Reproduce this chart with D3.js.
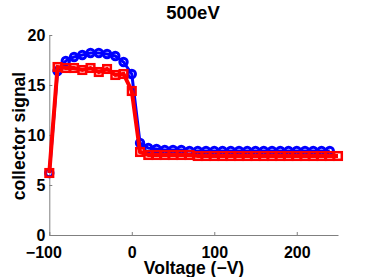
<!DOCTYPE html>
<html>
<head>
<meta charset="utf-8">
<script src="https://cdn.jsdelivr.net/npm/d3@7"></script>
<style>
  body { margin: 0; background: #fff; }
  text { font-family: "Liberation Sans", Arial, sans-serif; font-weight: bold; fill: #000; }
  .tick-label { font-size: 16px; }
  .label { font-size: 17.5px; }
  .title { font-size: 18.5px; }
</style>
</head>
<body>
<svg id="chart" width="374" height="277"></svg>
<script>
// data
let blueX = [-100, -90, -80, -70, -60, -50, -40, -30, -20, -10, 0,
    10, 20, 30, 40, 50, 60, 70, 80, 90, 100, 110, 120, 130, 140, 150,
    160, 170, 180, 190, 200, 210, 220, 230, 240]
let blueY = [6.2, 16.4, 17.4, 17.8, 18.0, 18.2, 18.2, 18.1, 17.9, 17.3, 16.1,
    9.2, 8.7, 8.6, 8.5, 8.5, 8.5, 8.4, 8.4, 8.4, 8.4, 8.4, 8.4, 8.4, 8.4, 8.4,
    8.4, 8.4, 8.4, 8.4, 8.4, 8.4, 8.4, 8.4, 8.4]

let redX = [-100, -90, -80, -70, -60, -50, -40, -30, -20, -10, 0,
    10, 20, 30, 40, 50, 60, 70, 80, 90, 100, 110, 120, 130, 140, 150,
    160, 170, 180, 190, 200, 210, 220, 230, 240, 250]
let redY = [6.2, 16.8, 16.7, 16.7, 16.5, 16.7, 16.3, 16.6, 16.0, 16.1, 14.4,
    8.3, 8.0, 8.0, 8.0, 8.0, 8.0, 8.0, 7.9, 7.9, 7.9, 7.9, 7.9, 7.9, 7.9, 7.9,
    7.9, 7.9, 7.9, 7.9, 7.9, 7.9, 7.9, 7.9, 7.9, 7.9]

let xTicks = [-100, 0, 100, 200]
let yTicks = [0, 5, 10, 15, 20]

let blueData = blueX.map((x, i) => ({ x: x, y: blueY[i] }))
let redData = redX.map((x, i) => ({ x: x, y: redY[i] }))

let svg = d3.select("#chart")

let plotVars = ({
    left: 49.3,
    right: 338,
    top: 35,
    bottom: 235,
})

let xScale = d3.scaleLinear()
    .domain([-100, 250])
    .range([plotVars.left, plotVars.right])

let yScale = d3.scaleLinear()
    .domain([0, 20])
    .range([plotVars.bottom, plotVars.top])

// axes (matlab style, box off, ticks inside)
let xAxis = d3.axisBottom(xScale)
    .tickValues(xTicks)
    .tickSizeInner(-3)
    .tickSizeOuter(0)
    .tickPadding(8)
    .tickFormat(d => d < 0 ? "\u2212" + Math.abs(d) : d)

let xAxisGroup = svg.append("g")
    .attr("transform", "translate(0," + plotVars.bottom + ")")
    .call(xAxis)

let yAxis = d3.axisLeft(yScale)
    .tickValues(yTicks)
    .tickSizeInner(-3)
    .tickSizeOuter(0)
    .tickPadding(4)

let yAxisGroup = svg.append("g")
    .attr("transform", "translate(" + plotVars.left + ",0)")
    .call(yAxis)

svg.selectAll(".domain").attr("stroke", "#808080").attr("stroke-width", 1)
svg.selectAll(".tick line").attr("stroke", "#808080")
svg.selectAll(".tick text")
    .attr("class", "tick-label")
    .attr("fill", "#000")

xAxisGroup.selectAll(".tick text")
    .attr("dy", "0.95em")
    .attr("dx", d => d < 0 ? -6 : 0)
yAxisGroup.selectAll(".tick text").attr("dy", "0.36em")

// blue series
let line = d3.line()
    .x(d => xScale(d.x))
    .y(d => yScale(d.y))

svg.append("path")
    .datum(blueData)
    .attr("d", line)
    .attr("fill", "none")
    .attr("stroke", "#0000ff")
    .attr("stroke-width", 3)

svg.selectAll("mycircle")
    .data(blueData)
    .enter()
    .append("circle")
    .attr("cx", d => xScale(d.x))
    .attr("cy", d => yScale(d.y))
    .attr("r", 3.7)
    .attr("fill", "none")
    .attr("stroke", "#0000ff")
    .attr("stroke-width", 3)

// red series
svg.append("path")
    .datum(redData)
    .attr("d", line)
    .attr("fill", "none")
    .attr("stroke", "#ff0000")
    .attr("stroke-width", 4)

svg.selectAll("mysquare")
    .data(redData)
    .enter()
    .append("rect")
    .attr("x", d => xScale(d.x) - 3.8)
    .attr("y", d => yScale(d.y) - 3.8)
    .attr("width", 7.6)
    .attr("height", 7.6)
    .attr("fill", "none")
    .attr("stroke", "#ff0000")
    .attr("stroke-width", 2.5)

// labels
svg.append("text")
    .attr("class", "title")
    .attr("x", 193)
    .attr("y", 19)
    .style("text-anchor", "middle")
    .text("500eV")

svg.append("text")
    .attr("class", "label")
    .attr("x", 194)
    .attr("y", 274)
    .style("text-anchor", "middle")
    .text("Voltage (\u2212V)")

svg.append("text")
    .attr("class", "label")
    .attr("transform", "translate(24.5,136) rotate(-90)")
    .style("text-anchor", "middle")
    .text("collector signal")
</script>
</body>
</html>
